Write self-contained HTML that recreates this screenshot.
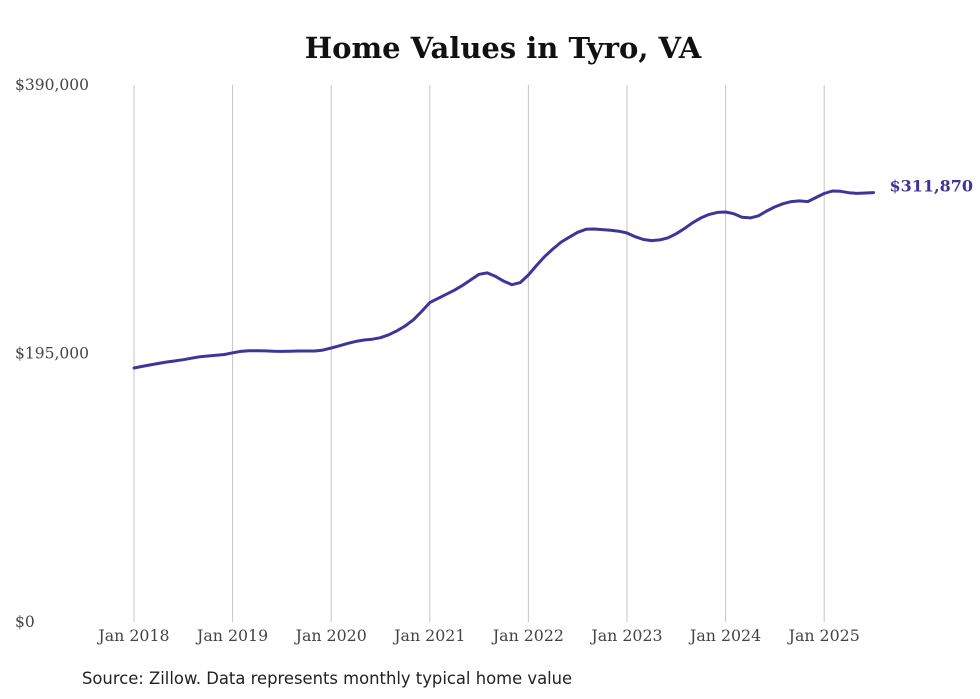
<!DOCTYPE html>
<html><head><meta charset="utf-8"><style>
html,body{margin:0;padding:0;background:#fff;}
svg{display:block;}
</style></head><body>
<svg id="chart" width="980" height="699">
<text x="503" y="58" text-anchor="middle" font-family="'DejaVu Serif','Liberation Serif',serif" font-weight="bold" font-size="29" fill="#111">Home Values in Tyro, VA</text>
<g id="grid"></g>
<g id="yaxis"></g>
<g id="xaxis"></g>
<g id="series"></g>
<text x="82" y="684" font-family="'DejaVu Sans','Liberation Sans',sans-serif" font-size="16.4" fill="#222">Source: Zillow. Data represents monthly typical home value</text>
</svg>
<script>
const years = [2018,2019,2020,2021,2022,2023,2024,2025];
const yTicks = [0,195000,390000];
const yTickLabels = ["$0","$195,000","$390,000"];
const values = [
184.5,185.6,186.7,187.8,188.8,189.6,190.5,191.6,192.6,193.2,193.7,194.3,
195.5,196.5,197.0,197.0,196.9,196.6,196.5,196.7,196.8,196.8,196.8,197.5,
199.0,200.6,202.3,203.8,204.8,205.4,206.5,208.6,211.5,215.0,219.5,225.5,
232.0,235.0,238.0,241.0,244.5,248.5,252.5,253.5,251.0,247.5,245.0,246.5,
252.0,259.0,265.5,271.0,276.0,279.5,283.0,285.2,285.4,285.0,284.5,283.8,
282.5,279.8,277.8,277.0,277.5,279.0,282.0,285.8,290.0,293.5,296.0,297.5,
297.8,296.5,294.0,293.5,295.0,298.5,301.5,303.8,305.3,305.8,305.3,308.3,
311.2,313.0,312.8,311.8,311.3,311.6,311.87
].map(v=>v*1000);
const endLabel = "$311,870";

const ns="http://www.w3.org/2000/svg";
const x0=134, pxYear=98.6, yTop=85, yBot=622, yMax=390000;
const xs = m => x0 + m*pxYear/12;
const ys = v => yBot - v/yMax*(yBot-yTop);
function mk(tag,attrs,parent){const e=document.createElementNS(ns,tag);for(const k in attrs)e.setAttribute(k,attrs[k]);parent.appendChild(e);return e;}
const grid=document.getElementById('grid'), xa=document.getElementById('xaxis'), ya=document.getElementById('yaxis'), ser=document.getElementById('series');
years.forEach((yr,i)=>{
  const x=xs(i*12);
  const l=mk('line',{x1:x,x2:x,y1:yTop,y2:yBot,stroke:'#c4c4c4','stroke-width':1},grid);
  
  
  const t=mk('text',{x:x,y:641,'text-anchor':'middle','font-family':"'DejaVu Serif','Liberation Serif',serif",'font-size':15.8,fill:'#444'},xa);
  t.textContent='Jan '+yr;
  
  
});
yTicks.forEach((v,i)=>{
  const t=mk('text',{x:15,y:ys(v)+5,'font-family':"'DejaVu Serif','Liberation Serif',serif",'font-size':15.5,fill:'#444'},ya);
  t.textContent=yTickLabels[i];
  
  
});
const d=values.map((v,i)=>(i?'L':'M')+xs(i).toFixed(1)+','+ys(v).toFixed(1)).join(' ');
const p=mk('path',{d:d,fill:'none',stroke:'#3d3699','stroke-width':3,'stroke-linejoin':'round','stroke-linecap':'round'},ser);


const last=values.length-1;
const lt=mk('text',{x:xs(last)+16,y:ys(values[last])-1,'font-family':"'DejaVu Serif','Liberation Serif',serif",'font-weight':'bold','font-size':16,fill:'#3d3699'},ser);
lt.textContent=endLabel;


</script>
</body></html>
